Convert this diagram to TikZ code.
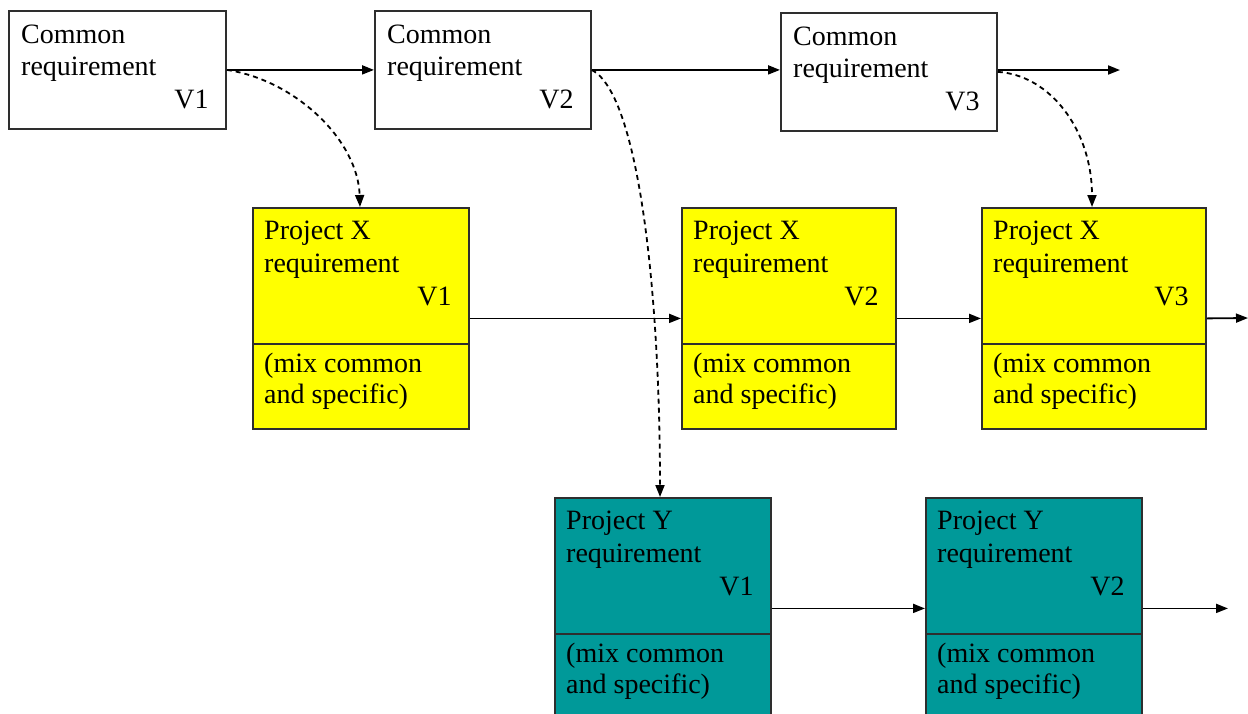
\documentclass[tikz,border=0pt]{standalone}
\usepackage{fontspec}
\setmainfont{Liberation Serif}
\usetikzlibrary{arrows.meta,calc}
\definecolor{projx}{HTML}{FFFF00}
\definecolor{projy}{HTML}{009999}
\definecolor{edge}{HTML}{2E2E2E}
\tikzset{
  box/.style={draw=edge, line width=1.8pt, rectangle, inner sep=0pt, anchor=north west,
              minimum width=216pt, minimum height=118pt},
  pbox/.style={box, minimum height=221pt},
  divider/.style={draw=edge, line width=1.8pt},
  lbl/.style={inner sep=0pt, anchor=base west, font=\fontsize{28}{32}\selectfont},
  ver/.style={lbl, anchor=base east},
  flow/.style={line width=1.8pt, -{Triangle[length=12pt,width=9pt]}},
  derive/.style={flow, dash pattern=on 5pt off 4pt},
}
\begin{document}
\begin{tikzpicture}[x=1pt,y=-1pt]
\useasboundingbox (0,0) rectangle (1248,713);
\clip (0,0) rectangle (1248,713);

% common requirement versions
\node[box, minimum width=217pt] (c1) at (8,10) {};
\node[box] (c2) at (374,10) {};
\node[box] (c3) at (780,12) {};

% project X versions
\node[pbox, fill=projx] (x1) at (252,207) {};
\node[pbox, fill=projx, minimum width=214pt] (x2) at (681,207) {};
\node[pbox, fill=projx, minimum width=224pt] (x3) at (981,207) {};

% project Y versions
\node[pbox, fill=projy] (y1) at (554,497) {};
\node[pbox, fill=projy] (y2) at (925,497) {};

% dividers between the version part and the mixed part
\foreach \b in {x1,x2,x3,y1,y2}
  \draw[divider] ($(\b.north west)+(0,137)$) -- ($(\b.north east)+(0,137)$);

% labels of the common boxes
\foreach \b/\v in {c1/V1,c2/V2,c3/V3}{
  \node[lbl] (\b-a) at ($(\b.north west)+(13,33)$) {Common};
  \node[lbl] (\b-b) at ($(\b.north west)+(13,65)$) {requirement};
  \node[ver] (\b-v) at ($(\b.north east)+(-18,98)$) {\v};
}

% labels of the project boxes
\foreach \b/\p/\v in {x1/X/V1,x2/X/V2,x3/X/V3,y1/Y/V1,y2/Y/V2}{
  \node[lbl] (\b-a) at ($(\b.north west)+(12,32)$) {Project \p};
  \node[lbl] (\b-b) at ($(\b.north west)+(12,65)$) {requirement};
  \node[ver] (\b-v) at ($(\b.north east)+(-18,98)$) {\v};
  \node[lbl] (\b-c) at ($(\b.north west)+(12,165)$) {(mix common};
  \node[lbl] (\b-d) at ($(\b.north west)+(12,196)$) {and specific)};
}

% open ends of the version chains
\coordinate (cend) at (1120,70);
\coordinate (xend) at (1248,318);
\coordinate (yend) at (1228,608);

% version chains
\draw[flow] (c1.east) -- (c2.west);
\draw[flow] (c2.east) -- (c2.east -| c3.west);
\draw[flow] (c3.east |- cend) -- (cend);
\draw[flow] (x1.east) -- (x2.west);
\draw[flow] (x2.east) -- (x3.west);
\draw[flow] (x3.east) -- (xend);
\draw[flow] (y1.east) -- (y2.west);
\draw[flow] (y2.east) -- (y2.east -| yend);

% derivations from the common requirement
\draw[derive] (c1.east) .. controls (295,80) and (358,140) .. (x1.north -| 360,0);
\draw[derive] (c2.east) .. controls (640,95) and (660,300) .. (y1.north -| 660,0);
\draw[derive] (c3.east) .. controls (1050,75) and (1092,130) .. (x3.north -| 1092,0);
\end{tikzpicture}
\end{document}
